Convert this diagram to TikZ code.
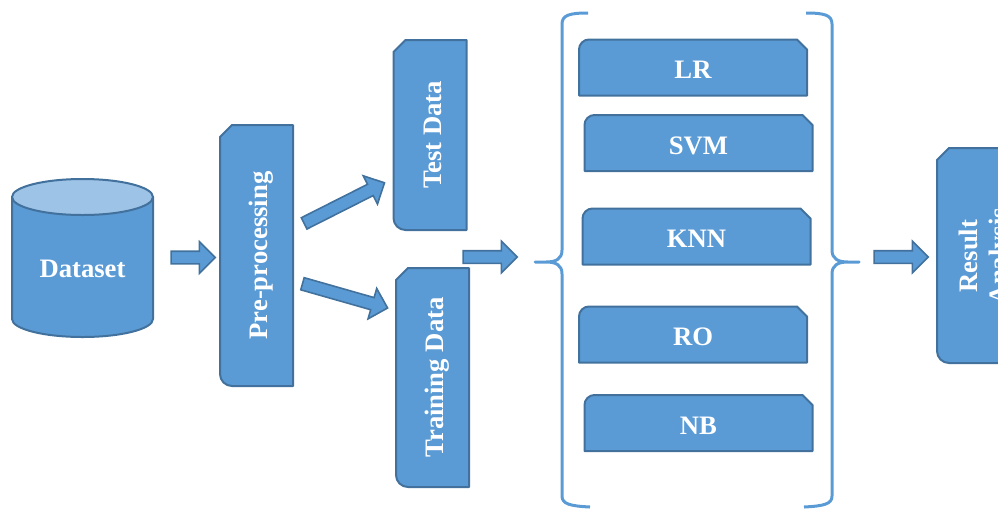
\documentclass[tikz,border=0pt]{standalone}
\usepackage{fontspec}
\setmainfont{Liberation Serif}
\usepackage{graphicx}
\usetikzlibrary{shapes.arrows,backgrounds}
\definecolor{boxfill}{RGB}{91,155,213}
\definecolor{boxedge}{RGB}{65,113,156}
\definecolor{cyltop}{RGB}{157,195,230}
\newlength\pxu
\setlength\pxu{0.75pt}
\newcommand\vlabel[1]{\rotatebox{90}{\smash{#1}\rule{0pt}{16.8pt}}}
\newcommand\vshape[1]{\filldraw[boxline] ([yshift=-12\pxu]#1.north west) -- ([xshift=12\pxu]#1.north west) -- (#1.north east) -- (#1.south east) -- ([xshift=12\pxu]#1.south west) arc[start angle=270,end angle=180,radius=12\pxu] -- cycle;}
\newcommand\hshape[1]{\filldraw[boxline] (#1.south west) -- ([yshift=-10\pxu]#1.north west) arc[start angle=180,end angle=90,radius=10\pxu] -- ([xshift=-10\pxu]#1.north east) -- ([yshift=-10\pxu]#1.north east) -- (#1.south east) -- cycle;}
\begin{document}
\begin{tikzpicture}[x=0.75pt,y=-0.75pt,
    boxline/.style={fill=boxfill,draw=boxedge,line width=1.5pt,line join=round},
    box/.style={inner sep=0pt,outer sep=0pt,text=white,font=\fontsize{20}{22.5}\selectfont\bfseries},
    vbox/.style={box,minimum width=73\pxu},
    mbox/.style={box,minimum width=228\pxu,minimum height=56\pxu,text height=16.8pt,text depth=0pt},
    blockarrow/.style={single arrow,fill=boxfill,draw=boxedge,line width=1.2pt,text height=0pt,text depth=0pt,inner sep=5.5\pxu,single arrow head extend=9.5\pxu},
    bracket/.style={draw=boxfill,line width=2.25pt,line join=round}]
  \useasboundingbox (0,0) rectangle (998,508);
  \clip (0,0) rectangle (998,508);
  \node[box,text height=16.8pt,text depth=0pt] (data) at (82.5,266) {Dataset};
  \node[vbox,minimum height=261\pxu] (pre) at (256.5,255.5) {\vlabel{Pre-processing}};
  \node[vbox,minimum height=190\pxu] (test) at (430,135) {\vlabel{Test Data}};
  \node[vbox,minimum height=219\pxu] (train) at (432.5,377.5) {\vlabel{Training Data}};
  \node[mbox] (lr) at (693,67.5) {LR};
  \node[mbox] (svm) at (698.5,143) {SVM};
  \node[mbox] (knn) at (696.5,236.5) {KNN};
  \node[mbox] (ro) at (693,334.5) {RO};
  \node[mbox] (nb) at (698.5,423) {NB};
  \node[vbox,minimum height=215\pxu] (res) at (973.5,255.5) {};
  \node[box] (restext) at (986,256) {\rotatebox{90}{\begin{tabular}{@{}c@{}}Result\\Analysis\end{tabular}}};
  \begin{pgfonlayer}{background}
    \fill[boxfill] (12,197) -- (12,319) arc[start angle=180,end angle=360,x radius=70.5\pxu,y radius=18\pxu] -- (153,197) -- cycle;
    \draw[boxedge,line width=1.5pt] (12,197) -- (12,319) arc[start angle=180,end angle=360,x radius=70.5\pxu,y radius=18\pxu] -- (153,197);
    \filldraw[fill=cyltop,draw=boxedge,line width=1.5pt] (82.5,197) ellipse[x radius=70.5\pxu,y radius=18\pxu];
    \vshape{pre}
    \vshape{test}
    \vshape{train}
    \vshape{res}
    \hshape{lr}
    \hshape{svm}
    \hshape{knn}
    \hshape{ro}
    \hshape{nb}
  \end{pgfonlayer}
  \node[blockarrow,minimum height=44\pxu] (a1) at (190,257.5) {};
  \node[blockarrow,minimum height=90\pxu,rotate=26.8] (a2) at (341.5,204.5) {};
  \node[blockarrow,minimum height=88.5\pxu,rotate=-15.9] (a3) at (342,295) {};
  \node[blockarrow,minimum height=54\pxu] (a4) at (487,257) {};
  \node[blockarrow,minimum height=54\pxu] (a5) at (898,257) {};
  \draw[bracket] (588,13) .. controls (570,13) and (562,15) .. (562,24) -- (562,250) .. controls (562,259) and (556,262) .. (546,262) -- (535,262) -- (546,262) .. controls (556,262) and (562,265) .. (562,274) -- (562,496) .. controls (562,504) and (570,506) .. (590,507);
  \draw[bracket] (806,13) .. controls (824,13) and (832,15) .. (832,24) -- (832,250) .. controls (832,259) and (838,262) .. (848,262) -- (859,262) -- (848,262) .. controls (838,262) and (832,265) .. (832,274) -- (832,496) .. controls (832,504) and (824,506) .. (804,507);
\end{tikzpicture}
\end{document}
